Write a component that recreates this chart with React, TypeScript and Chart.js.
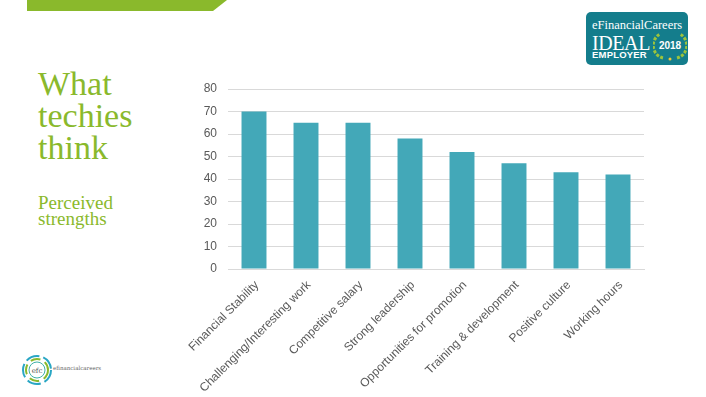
import React, { useEffect, useRef } from "react";
import { Chart, registerables } from "chart.js";

Chart.register(...registerables);

const categories = [
  "Financial Stability",
  "Challenging/Interesting work",
  "Competitive salary",
  "Strong leadership",
  "Opportunities for promotion",
  "Training & development",
  "Positive culture",
  "Working hours",
];
const values = [70, 65, 65, 58, 52, 47, 43, 42];
const yTicks = [0, 10, 20, 30, 40, 50, 60, 70, 80];

const GREEN = "#8ab92c";
const TEAL = "#43a8b8";

function BarChart() {
  const ref = useRef<HTMLCanvasElement | null>(null);
  useEffect(() => {
    if (!ref.current) return;
    const chart = new Chart(ref.current, {
      type: "bar",
      data: {
        labels: categories,
        datasets: [
          {
            data: values,
            backgroundColor: TEAL,
            barPercentage: 0.96,
            categoryPercentage: 0.5,
          },
        ],
      },
      options: {
        animation: false,
        responsive: false,
        maintainAspectRatio: false,
        layout: { padding: { top: 0, right: 16, left: 0, bottom: 0 } },
        plugins: { legend: { display: false }, tooltip: { enabled: false } },
        scales: {
          x: {
            grid: { display: false },
            border: { display: true, color: "#d9d9d9", width: 1 },
            ticks: {
              color: "#595959",
              font: { family: "'Liberation Sans', Arial, sans-serif", size: 12 },
              minRotation: 45,
              maxRotation: 45,
              autoSkip: false,
              padding: 1,
              labelOffset: 3,
            },
            afterFit: (s: any) => {
              s.height = 128;
            },
          },
          y: {
            min: 0,
            max: 80,
            afterBuildTicks: (s: any) => {
              s.ticks = yTicks.map((v) => ({ value: v }));
            },
            grid: { color: "#d9d9d9", drawTicks: false, lineWidth: 1 },
            border: { display: false },
            ticks: {
              color: "#595959",
              font: { family: "'Liberation Sans', Arial, sans-serif", size: 12 },
              padding: 11,
            },
            afterFit: (s: any) => {
              s.width = 48;
              s.paddingTop = 9;
              s.paddingBottom = 7;
            },
          },
        },
      },
    });
    return () => chart.destroy();
  }, []);
  return (
    <canvas
      ref={ref}
      width={480}
      height={317}
      style={{ position: "absolute", left: 180, top: 80, width: 480, height: 317 }}
    />
  );
}

export default function App() {
  const serif = "'Liberation Serif', 'Times New Roman', serif";
  return (
    <div
      style={{
        position: "fixed",
        left: 0,
        top: 0,
        width: 706,
        height: 397,
        background: "#fff",
        overflow: "hidden",
      }}
    >
      {/* top green bar */}
      <div
        style={{
          position: "absolute",
          left: 27,
          top: 0,
          width: 200,
          height: 11,
          background: GREEN,
          clipPath: "polygon(0 0, 100% 0, 93% 100%, 0 100%)",
        }}
      />
      {/* title */}
      <div
        style={{
          position: "absolute",
          left: 38,
          top: 67.5,
          fontFamily: serif,
          fontSize: 34,
          lineHeight: "32px",
          color: GREEN,
          whiteSpace: "nowrap",
        }}
      >
        What
        <br />
        techies
        <br />
        think
      </div>
      <div
        style={{
          position: "absolute",
          left: 38,
          top: 194.5,
          fontFamily: serif,
          fontSize: 19,
          lineHeight: "16px",
          color: GREEN,
          whiteSpace: "nowrap",
        }}
      >
        Perceived
        <br />
        strengths
      </div>
      {/* badge */}
      <div
        style={{
          position: "absolute",
          left: 586,
          top: 12,
          width: 102,
          height: 53,
          background: "#147d8c",
          borderRadius: 5,
          color: "#fff",
        }}
      >
        <div
          style={{
            position: "absolute",
            left: 6,
            top: 6.5,
            fontFamily: serif,
            fontSize: 12.5,
            lineHeight: 1,
            whiteSpace: "nowrap",
          }}
        >
          eFinancialCareers
        </div>
        <div
          style={{
            position: "absolute",
            left: 6,
            top: 20.5,
            fontFamily: serif,
            fontSize: 20,
            lineHeight: 1,
            letterSpacing: -0.4,
            whiteSpace: "nowrap",
          }}
        >
          IDEAL
        </div>
        <div
          style={{
            position: "absolute",
            left: 6,
            top: 38,
            fontFamily: "'Liberation Sans', Arial, sans-serif",
            fontWeight: "bold",
            fontSize: 9.5,
            lineHeight: 1,
            letterSpacing: 0.2,
            whiteSpace: "nowrap",
          }}
        >
          EMPLOYER
        </div>
        <svg
          width={34}
          height={34}
          style={{ position: "absolute", left: 67, top: 16 }}
          viewBox="0 0 34 34"
        >
          <path d="M10 30 A13 13 0 0 1 7 6" stroke="#9cc43c" strokeWidth={3} fill="none" strokeDasharray="3 1.5" />
          <path d="M24 30 A13 13 0 0 0 27 6" stroke="#9cc43c" strokeWidth={3} fill="none" strokeDasharray="3 1.5" />
          <text
            x={17}
            y={21}
            textAnchor="middle"
            fill="#fff"
            fontFamily="'Liberation Sans', Arial, sans-serif"
            fontWeight="bold"
            fontSize={10}
          >
            2018
          </text>
          <circle cx={17} cy={31} r={1.5} fill="#f2c830" />
        </svg>
      </div>
      {/* bottom logo */}
      <svg width={40} height={40} style={{ position: "absolute", left: 18, top: 351 }} viewBox="0 0 40 40">
        <circle cx={19} cy={19} r={14} stroke="#29a6c4" strokeWidth={2} fill="none" strokeDasharray="14 4" />
        <circle cx={19} cy={19} r={11} stroke="#8ab92c" strokeWidth={2} fill="none" strokeDasharray="10 5" />
        <circle cx={19} cy={19} r={8} stroke="#3fb0a8" strokeWidth={1} fill="#fff" />
        <text x={19} y={21.5} textAnchor="middle" fontSize={7} fill="#555" fontFamily="'DejaVu Serif', serif">
          efc
        </text>
      </svg>
      <div
        style={{
          position: "absolute",
          left: 53,
          top: 365,
          fontFamily: "'DejaVu Serif', serif",
          fontSize: 5.5,
          color: "#666",
          whiteSpace: "nowrap",
        }}
      >
        efinancialcareers
      </div>
      <BarChart />
    </div>
  );
}
